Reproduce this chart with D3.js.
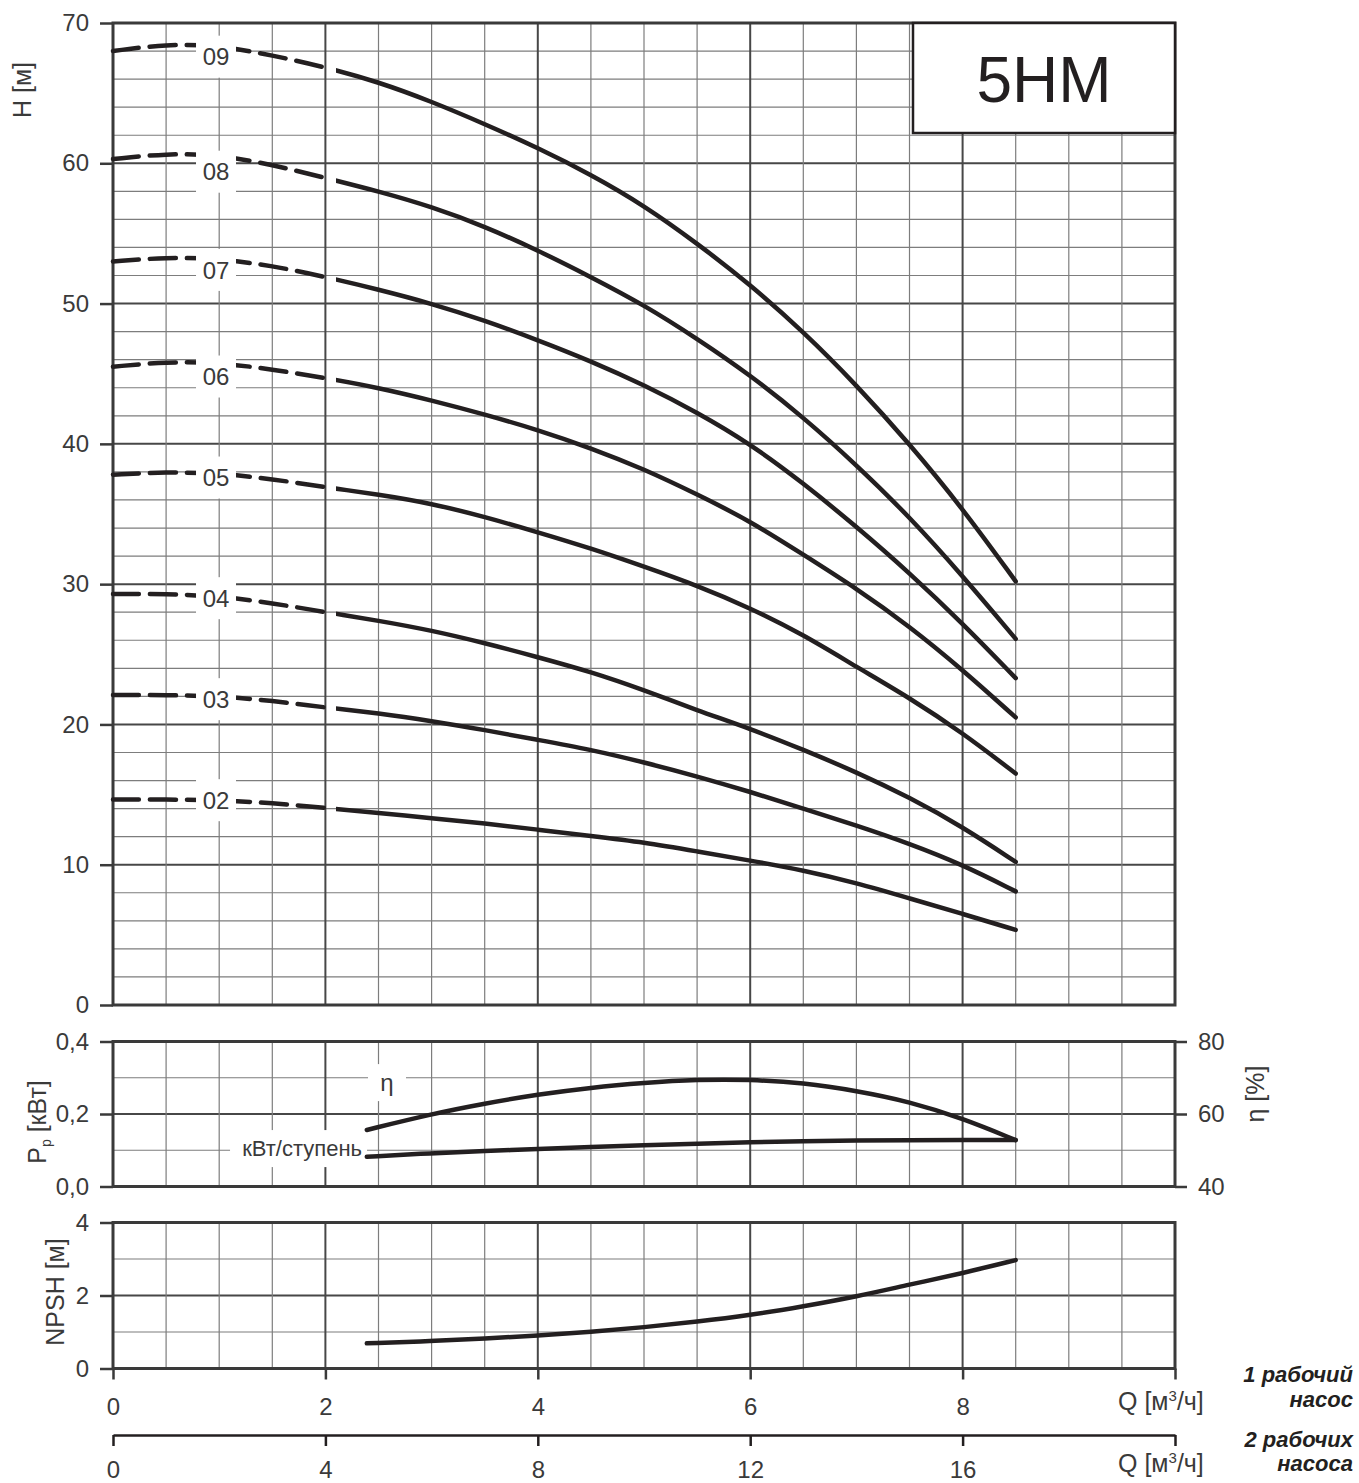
<!DOCTYPE html>
<html><head><meta charset="utf-8">
<script src="https://cdn.jsdelivr.net/npm/d3@7"></script>
<style>
body{margin:0;background:#fff}
text{font-family:"Liberation Sans",Arial,Helvetica,sans-serif}
</style>
</head><body>
<svg id="c" width="1359" height="1483"></svg>
<script>
// ---------- DATA ----------
const Q = [0, 0.5, 1, 1.5, 2, 2.5, 3, 3.5, 4, 4.5, 5, 5.5, 6, 6.5, 7, 7.5, 8, 8.5];
const H02 = [14.65, 14.65, 14.6, 14.4, 14.05, 13.7, 13.3, 12.95, 12.5, 12.05, 11.6, 10.95, 10.3, 9.6, 8.7, 7.6, 6.5, 5.35];
const H03 = [22.1, 22.1, 22.0, 21.7, 21.2, 20.8, 20.25, 19.6, 18.9, 18.2, 17.3, 16.3, 15.2, 14.0, 12.8, 11.5, 10.0, 8.1];
const H04 = [29.3, 29.3, 29.15, 28.65, 28.0, 27.4, 26.7, 25.8, 24.8, 23.75, 22.45, 21.0, 19.7, 18.2, 16.6, 14.8, 12.7, 10.2];
const H05 = [37.8, 38.0, 37.9, 37.5, 36.9, 36.4, 35.75, 34.8, 33.7, 32.55, 31.25, 29.9, 28.3, 26.4, 24.1, 21.9, 19.4, 16.5];
const H06 = [45.5, 45.85, 45.8, 45.3, 44.7, 44.0, 43.1, 42.1, 41.0, 39.7, 38.2, 36.4, 34.5, 32.1, 29.7, 27.0, 23.9, 20.5];
const H07 = [53.0, 53.3, 53.2, 52.7, 51.9, 51.0, 50.0, 48.8, 47.4, 45.9, 44.2, 42.25, 40.0, 37.2, 34.1, 30.8, 27.2, 23.3];
const H08 = [60.3, 60.7, 60.6, 59.9, 58.95, 58.0, 56.9, 55.5, 53.8, 51.9, 49.9, 47.5, 44.9, 41.9, 38.5, 34.8, 30.6, 26.1];
const H09 = [68.0, 68.5, 68.4, 67.7, 66.85, 65.8, 64.4, 62.8, 61.1, 59.2, 57.0, 54.3, 51.35, 48.0, 44.2, 40.0, 35.4, 30.2];
const stageNames = ["02", "03", "04", "05", "06", "07", "08", "09"];
const stageCurves = [H02, H03, H04, H05, H06, H07, H08, H09];
const labelQ = 0.97;
const labelH = [14.6, 21.8, 29.0, 37.6, 44.8, 52.4, 59.4, 67.6];

const Qp = [2.39, 3, 3.5, 4, 4.5, 5, 5.5, 6, 6.5, 7, 7.5, 8, 8.5];
const Eta = [55.6, 60.0, 62.9, 65.4, 67.3, 68.6, 69.5, 69.5, 68.6, 66.4, 63.4, 58.8, 52.8];
const Pkw = [0.082, 0.092, 0.098, 0.103, 0.109, 0.114, 0.118, 0.122, 0.125, 0.127, 0.128, 0.128, 0.128];
const NPSH = [0.69, 0.75, 0.82, 0.90, 1.0, 1.13, 1.28, 1.46, 1.7, 1.97, 2.3, 2.61, 2.97];

const hTicks = [0, 10, 20, 30, 40, 50, 60, 70];
const pTicks = [0, 0.2, 0.4];
const eTicks = [40, 60, 80];
const nTicks = [0, 2, 4];
const qTicks = [0, 2, 4, 6, 8, 10];
const q2Ticks = [0, 4, 8, 12, 16, 20];

// ---------- SCALES ----------
const svg = d3.select("#c");
const x = d3.scaleLinear().domain([0, 10]).range([113, 1175]);
const x2 = d3.scaleLinear().domain([0, 20]).range([113, 1175]);
const yH = d3.scaleLinear().domain([0, 70]).range([1005, 23]);
const yP = d3.scaleLinear().domain([0, 0.4]).range([1186.5, 1041.5]);
const yE = d3.scaleLinear().domain([40, 80]).range([1186.5, 1041.5]);
const yN = d3.scaleLinear().domain([0, 4]).range([1368.5, 1222.5]);

const INK = "#231f20", TXT = "#3a3a3a";
const MINOR = "#7d7d7d", MAJOR = "#474747", FRAME = "#3a3a3a";
const FONT = '"Liberation Sans",Arial,sans-serif';
const TICK_FS = 24, TITLE_FS = 25;

// ---------- GRID ----------
const qGrid = d3.range(0.5, 10, 0.5);
function panel(yScale, hVals, isMajor) {
  const g = svg.append("g");
  const [yb, yt] = yScale.range();
  hVals.forEach(v => {
    const mj = isMajor(v);
    g.append("line").attr("x1", x(0)).attr("x2", x(10))
      .attr("y1", yScale(v)).attr("y2", yScale(v))
      .attr("stroke", mj ? MAJOR : MINOR).attr("stroke-width", mj ? 2 : 1.2);
  });
  qGrid.forEach(q => {
    const mj = Math.abs(q % 2) < 1e-9;
    g.append("line").attr("x1", x(q)).attr("x2", x(q))
      .attr("y1", yt).attr("y2", yb)
      .attr("stroke", mj ? MAJOR : MINOR).attr("stroke-width", mj ? 2 : 1.2);
  });
  g.append("rect").attr("x", x(0)).attr("y", yt)
    .attr("width", x(10) - x(0)).attr("height", yb - yt)
    .attr("fill", "none").attr("stroke", FRAME).attr("stroke-width", 3);
  return g;
}
panel(yH, d3.range(2, 70, 2), v => v % 10 === 0);
panel(yP, [0.1, 0.2, 0.3], v => Math.abs(v - 0.2) < 1e-9);
panel(yN, [1, 2, 3], v => v === 2);

// ---------- AXES ----------
function styleAxis(g, fs) {
  g.select(".domain").remove();
  g.selectAll(".tick line").attr("stroke", FRAME).attr("stroke-width", 2.5);
  g.selectAll(".tick text").attr("fill", TXT).style("font-size", fs + "px").style("font-family", FONT);
}
const comma = d => d.toFixed(1).replace(".", ",");
styleAxis(svg.append("g").attr("transform", `translate(${x(0)},0)`)
  .call(d3.axisLeft(yH).tickValues(hTicks).tickSize(13).tickPadding(11).tickFormat(d3.format("d"))), TICK_FS);
styleAxis(svg.append("g").attr("transform", `translate(${x(0)},0)`)
  .call(d3.axisLeft(yP).tickValues(pTicks).tickSize(13).tickPadding(11).tickFormat(comma)), TICK_FS);
styleAxis(svg.append("g").attr("transform", `translate(${x(10)},0)`)
  .call(d3.axisRight(yE).tickValues(eTicks).tickSize(12).tickPadding(11).tickFormat(d3.format("d"))), TICK_FS);
styleAxis(svg.append("g").attr("transform", `translate(${x(0)},0)`)
  .call(d3.axisLeft(yN).tickValues(nTicks).tickSize(13).tickPadding(11).tickFormat(d3.format("d"))), TICK_FS);
styleAxis(svg.append("g").attr("transform", `translate(0,${yN(0)})`)
  .call(d3.axisBottom(x).tickValues(qTicks).tickSize(11).tickPadding(18).tickFormat(d => d === 10 ? "" : d)), TICK_FS);
const ax2 = svg.append("g").attr("transform", "translate(0,1435)")
  .call(d3.axisBottom(x2).tickValues(q2Ticks).tickSize(11).tickSizeOuter(0).tickPadding(15).tickFormat(d => d === 20 ? "" : d));
ax2.select(".domain").attr("stroke", INK).attr("stroke-width", 2.5);
ax2.selectAll(".tick line").attr("stroke", INK).attr("stroke-width", 2.5);
ax2.selectAll(".tick text").attr("fill", TXT).style("font-size", TICK_FS + "px").style("font-family", FONT);

// ---------- TITLE BOX ----------
svg.append("rect").attr("x", 913).attr("y", 23).attr("width", 262).attr("height", 110)
  .attr("fill", "#fff").attr("stroke", INK).attr("stroke-width", 2.5);
svg.append("text").attr("x", 1044).attr("y", 102).attr("text-anchor", "middle")
  .attr("fill", INK).style("font-size", "64px").text("5HM");

// ---------- H CURVES ----------
const defs = svg.append("defs");
defs.append("clipPath").attr("id", "clipDash").append("rect")
  .attr("x", 0).attr("y", 0).attr("width", x(2.04)).attr("height", 1100);
defs.append("clipPath").attr("id", "clipSolid").append("rect")
  .attr("x", x(2.1)).attr("y", 0).attr("width", 1359).attr("height", 1100);

const lineH = d3.line().x(d => x(d[0])).y(d => yH(d[1])).curve(d3.curveBasis);
const gc = svg.append("g");
stageCurves.forEach((arr, i) => {
  const pts = Q.map((q, j) => [q, arr[j]]);
  gc.append("path").attr("d", lineH(pts)).attr("fill", "none").attr("stroke", INK)
    .attr("stroke-width", 4.5).attr("stroke-linecap", "round")
    .attr("stroke-dasharray", "26,11").attr("clip-path", "url(#clipDash)");
  gc.append("path").attr("d", lineH(pts)).attr("fill", "none").attr("stroke", INK)
    .attr("stroke-width", 4.5).attr("stroke-linecap", "round")
    .attr("clip-path", "url(#clipSolid)");
});
// stage labels
stageNames.forEach((s, i) => {
  const cx = x(labelQ), cy = yH(labelH[i]);
  svg.append("rect").attr("x", cx - 20).attr("y", cy - 21).attr("width", 40).attr("height", 42).attr("fill", "#fff");
  svg.append("text").attr("x", cx).attr("y", cy).attr("dy", "0.36em").attr("text-anchor", "middle")
    .attr("fill", TXT).style("font-size", "24px").text(s);
});

// ---------- POWER / EFFICIENCY ----------
const etaX = x(2.58), etaY = yP(0.288);
svg.append("rect").attr("x", etaX - 19).attr("y", etaY - 18).attr("width", 38).attr("height", 37).attr("fill", "#fff");
svg.append("text").attr("x", etaX).attr("y", etaY).attr("dy", "0.36em").attr("text-anchor", "middle")
  .attr("fill", TXT).style("font-size", "24px").text("η");
const kwX = x(2.345), kwY = yP(0.106);
svg.append("rect").attr("x", kwX - 132).attr("y", kwY - 18).attr("width", 137).attr("height", 37).attr("fill", "#fff");
svg.append("text").attr("x", kwX).attr("y", kwY).attr("dy", "0.36em").attr("text-anchor", "end")
  .attr("fill", TXT).style("font-size", "22px").text("кВт/ступень");

const lineE = d3.line().x(d => x(d[0])).y(d => yE(d[1])).curve(d3.curveBasis);
const lineP = d3.line().x(d => x(d[0])).y(d => yP(d[1])).curve(d3.curveBasis);
const lineN = d3.line().x(d => x(d[0])).y(d => yN(d[1])).curve(d3.curveBasis);
[[lineE, Eta], [lineP, Pkw], [lineN, NPSH]].forEach(([ln, arr]) => {
  svg.append("path").attr("d", ln(Qp.map((q, j) => [q, arr[j]])))
    .attr("fill", "none").attr("stroke", INK).attr("stroke-width", 4.5)
    .attr("stroke-linecap", "round").attr("stroke-linejoin", "round");
});

// ---------- AXIS TITLES ----------
function vtitle(cx, cy, build) {
  const t = svg.append("text").attr("transform", `translate(${cx},${cy}) rotate(-90)`)
    .attr("text-anchor", "middle").attr("dy", "0.36em").attr("fill", TXT).style("font-size", TITLE_FS + "px");
  build(t);
}
vtitle(22, 90, t => t.text("H [м]"));
vtitle(37, 1122, t => {
  t.append("tspan").text("P");
  t.append("tspan").attr("dy", 5).style("font-size", "14px").text("р");
  t.append("tspan").attr("dy", -5).text(" [кВт]");
});
vtitle(55, 1292, t => t.text("NPSH [м]"));
vtitle(1255, 1094, t => t.text("η [%]"));

function qTitle(y) {
  const t = svg.append("text").attr("x", 1118).attr("y", y).attr("fill", TXT).style("font-size", "25px");
  t.append("tspan").text("Q [м");
  t.append("tspan").attr("dy", -9).style("font-size", "15px").text("3");
  t.append("tspan").attr("dy", 9).text("/ч]");
}
qTitle(1410);
qTitle(1472);

const notes = [["1 рабочий", 1382], ["насос", 1407], ["2 рабочих", 1447], ["насоса", 1471]];
notes.forEach(([s, y]) => {
  svg.append("text").attr("x", 1353).attr("y", y).attr("text-anchor", "end")
    .attr("fill", INK).style("font-size", "22px").style("font-weight", "bold")
    .style("font-style", "italic").text(s);
});
</script>
</body></html>
